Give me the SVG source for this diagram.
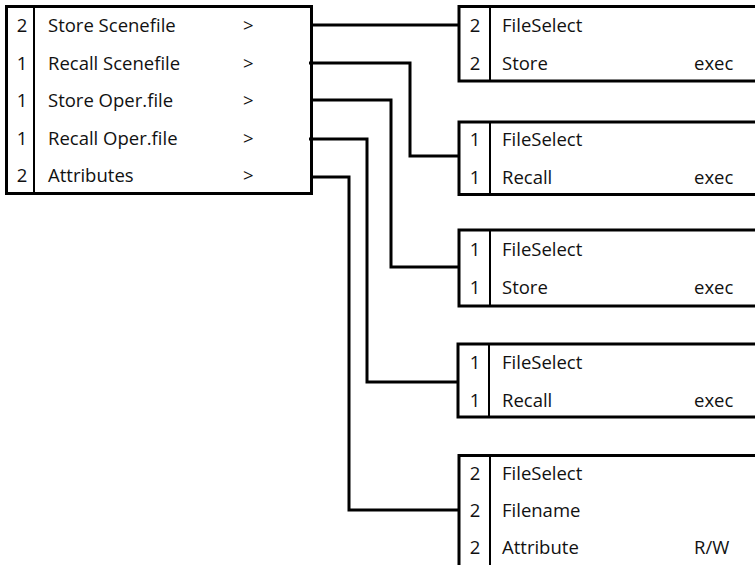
<svg xmlns="http://www.w3.org/2000/svg" width="755" height="565" viewBox="0 0 755 565">
<style>
.box{fill:none;stroke:#000;stroke-width:3}
.div{fill:none;stroke:#000;stroke-width:2}
.con{fill:none;stroke:#000;stroke-width:3}
text{font-family:"Open Sans","Noto Sans","Liberation Sans",sans-serif;font-size:18.5px;fill:#111}
.n{text-anchor:middle}
</style>
<rect width="755" height="565" fill="#fff"/>
<g id="connectors">
<path class="con" d="M312 25H459"/>
<path class="con" d="M309 63H410V156H459"/>
<path class="con" d="M312 100H391V267H459"/>
<path class="con" d="M309 139H367V382H459"/>
<path class="con" d="M312 177H349V510H459"/>
</g>
<g id="menu">
<rect class="box" x="6.5" y="6.5" width="305" height="187"/>
<line class="div" x1="34" y1="6.5" x2="34" y2="193.5"/>
<text class="n" x="22" y="32">2</text><text x="48" y="32">Store Scenefile</text><text x="243" y="32">&gt;</text>
<text class="n" x="22" y="70">1</text><text x="48" y="70">Recall Scenefile</text><text x="243" y="70">&gt;</text>
<text class="n" x="22" y="107">1</text><text x="48" y="107">Store Oper.file</text><text x="243" y="107">&gt;</text>
<text class="n" x="22" y="145">1</text><text x="48" y="145">Recall Oper.file</text><text x="243" y="145">&gt;</text>
<text class="n" x="22" y="182">2</text><text x="48" y="182">Attributes</text><text x="243" y="182">&gt;</text>
</g>
<g id="box1">
<rect class="box" x="459" y="6.5" width="310" height="74.5"/>
<line class="div" x1="490" y1="6.5" x2="490" y2="81"/>
<text class="n" x="475" y="32">2</text><text x="502" y="32">FileSelect</text>
<text class="n" x="475" y="70">2</text><text x="502" y="70">Store</text><text x="694" y="70">exec</text>
</g>
<g id="box2">
<rect class="box" x="459" y="122" width="310" height="72.5"/>
<line class="div" x1="490" y1="122" x2="490" y2="194.5"/>
<text class="n" x="475" y="146">1</text><text x="502" y="146">FileSelect</text>
<text class="n" x="475" y="184">1</text><text x="502" y="184">Recall</text><text x="694" y="184">exec</text>
</g>
<g id="box3">
<rect class="box" x="459" y="230" width="310" height="76"/>
<line class="div" x1="490" y1="230" x2="490" y2="306"/>
<text class="n" x="475" y="256">1</text><text x="502" y="256">FileSelect</text>
<text class="n" x="475" y="294">1</text><text x="502" y="294">Store</text><text x="694" y="294">exec</text>
</g>
<g id="box4">
<rect class="box" x="458" y="344" width="310" height="73"/>
<line class="div" x1="489" y1="344" x2="489" y2="417"/>
<text class="n" x="475" y="369">1</text><text x="502" y="369">FileSelect</text>
<text class="n" x="475" y="407">1</text><text x="502" y="407">Recall</text><text x="694" y="407">exec</text>
</g>
<g id="box5">
<path class="box" d="M459 570V455.5H760"/>
<line class="div" x1="490" y1="455.5" x2="490" y2="570"/>
<text class="n" x="475" y="480">2</text><text x="502" y="480">FileSelect</text>
<text class="n" x="475" y="517">2</text><text x="502" y="517">Filename</text>
<text class="n" x="475" y="554">2</text><text x="502" y="554">Attribute</text><text x="694" y="554">R/W</text>
</g>
</svg>
